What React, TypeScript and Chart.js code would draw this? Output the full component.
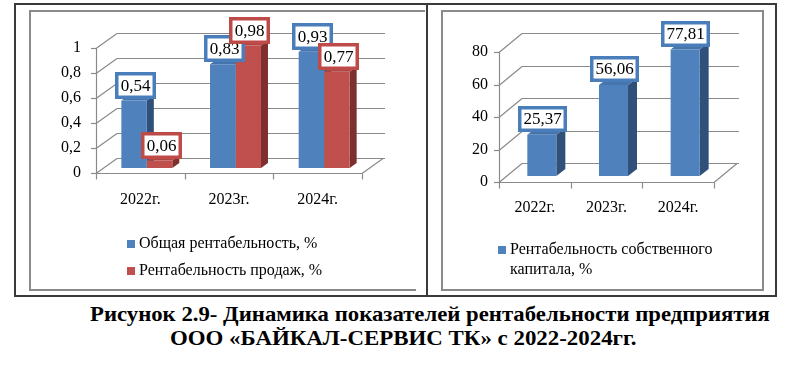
import React, { useEffect, useLayoutEffect, useRef, useState } from "react";
import { Chart, registerables } from "chart.js";
Chart.register(...registerables);

// ---------- data ----------
const categories = ["2022г.", "2023г.", "2024г."];
const generalLabel = "Общая рентабельность, %";
const generalValues = [0.54, 0.83, 0.93];
const salesLabel = "Рентабельность продаж, %";
const salesValues = [0.06, 0.98, 0.77];
const equityLabel = "Рентабельность собственного капитала, %";
const equityValues = [25.37, 56.06, 77.81];
const leftAxisMax = 1;
const leftAxisStep = 0.2;
const rightAxisMax = 80;
const rightAxisStep = 20;
const captionLine1 = "Рисунок 2.9- Динамика показателей рентабельности предприятия";
const captionLine2 = "ООО «БАЙКАЛ-СЕРВИС ТК» с 2022-2024гг.";

// ---------- styles ----------
const BLUE = { front: "#4F81BD", side: "#30507A", top: "#4674AC", border: "#4A7EBB" };
const RED = { front: "#C0504D", side: "#7E302E", top: "#AE4643", border: "#BE4B48" };
const FONT = "Liberation Serif";
const GRID = "#8A8A8A";

const fmt = (v: number) => String(Number(v.toFixed(2))).replace(".", ",");

const threeDPlugin = {
  id: "threeD",
  beforeDatasetsDraw(chart: any, _a: any, o: any) {
    const { ctx, chartArea: ca, scales } = chart;
    const x = scales.x, y = scales.y;
    const line = (x1: number, y1: number, x2: number, y2: number) => {
      ctx.beginPath(); ctx.moveTo(x1, y1); ctx.lineTo(x2, y2); ctx.stroke();
    };
    ctx.save();
    ctx.strokeStyle = GRID;
    ctx.lineWidth = 1.2;
    const base = Math.round(y.getPixelForValue(0)) + 0.5;
    y.ticks.forEach((t: any) => {
      const py = Math.round(y.getPixelForValue(t.value)) + 0.5;
      line(ca.left, py, ca.left + o.wallDx, py + o.wallDy);
      line(ca.left + o.wallDx, py + o.wallDy, ca.right + o.wallDx + 2, py + o.wallDy);
      line(ca.left - 5, py, ca.left, py);
    });
    line(ca.right, base, ca.right + o.wallDx, base + o.wallDy);
    line(ca.left, base, ca.right, base);
    line(ca.left + 0.5, ca.top, ca.left + 0.5, base);
    const n = chart.data.labels.length;
    const cw = (x.getPixelForValue(n - 1) - x.getPixelForValue(0)) / Math.max(1, n - 1) || (ca.right - ca.left);
    for (let i = 0; i <= n; i++) {
      const px = Math.round(x.getPixelForValue(0) - cw / 2 + i * cw) + 0.5;
      line(px, base, px, base + 6);
    }
    ctx.restore();

    ctx.save();
    ctx.translate(o.barDx, o.barDy);
    const metas = chart.data.datasets.map((_d: any, di: number) => chart.getDatasetMeta(di));
    for (let i = 0; i < n; i++) {
      metas.forEach((meta: any, di: number) => {
        const el = meta.data[i];
        if (!el) return;
        const p = el.getProps(["x", "y", "base", "width"], true);
        const l = p.x - p.width / 2, r = p.x + p.width / 2;
        const col = chart.data.datasets[di].faceColors;
        ctx.fillStyle = col.side;
        ctx.beginPath();
        ctx.moveTo(r, p.y); ctx.lineTo(r + o.sideDx, p.y + o.sideDy);
        ctx.lineTo(r + o.sideDx, p.base + o.sideDy); ctx.lineTo(r, p.base);
        ctx.closePath(); ctx.fill();
        ctx.fillStyle = col.top;
        ctx.beginPath();
        ctx.moveTo(l, p.y); ctx.lineTo(l + o.sideDx, p.y + o.sideDy);
        ctx.lineTo(r + o.sideDx, p.y + o.sideDy); ctx.lineTo(r, p.y);
        ctx.closePath(); ctx.fill();
      });
    }
    // stay translated for the bar fronts
  },
  afterDatasetsDraw(chart: any, _a: any, o: any) {
    const { ctx } = chart;
    ctx.restore();
    ctx.save();
    ctx.font = `${o.labelSize}px "${FONT}"`;
    ctx.textAlign = "center";
    ctx.textBaseline = "middle";
    chart.data.datasets.forEach((ds: any, di: number) => {
      const meta = chart.getDatasetMeta(di);
      meta.data.forEach((el: any, i: number) => {
        const p = el.getProps(["x", "y"], true);
        const txt = fmt(ds.data[i]);
        const tw = ctx.measureText(txt).width;
        const w = Math.round(tw + 11), h = o.boxH;
        const cx = p.x + o.barDx + o.labelDx;
        const bottom = p.y + o.barDy - o.labelGap;
        const x0 = Math.round(cx - w / 2), y0 = Math.round(bottom - h);
        ctx.fillStyle = "#FFFFFF";
        ctx.fillRect(x0, y0, w, h);
        ctx.strokeStyle = ds.faceColors.border;
        ctx.lineWidth = 3.5;
        ctx.strokeRect(x0 + 1.75, y0 + 1.75, w - 3.5, h - 3.5);
        ctx.fillStyle = "#000";
        ctx.fillText(txt, x0 + w / 2, y0 + h / 2 + 1);
      });
    });
    ctx.restore();
  },
};

function makeConfig(datasets: any[], max: number, step: number, dims: any) {
  return {
    type: "bar",
    data: { labels: categories, datasets },
    plugins: [threeDPlugin],
    options: {
      responsive: false,
      animation: false,
      events: [],
      layout: { padding: { top: dims.top, right: dims.right, left: 0, bottom: 0 } },
      datasets: { bar: { categoryPercentage: dims.catPct, barPercentage: 1, borderWidth: 0 } },
      scales: {
        x: {
          grid: { display: false, drawTicks: false },
          border: { display: false },
          ticks: { padding: dims.xPad, color: "#000", font: { family: `"${FONT}"`, size: 16 } },
          afterFit: (s: any) => { s.height = dims.xH; },
        },
        y: {
          min: 0,
          max,
          grid: { display: false, drawTicks: false },
          border: { display: false },
          ticks: {
            stepSize: step,
            padding: dims.yPad,
            color: "#000",
            font: { family: `"${FONT}"`, size: 16 },
            callback: (v: any) => fmt(Number(v)),
          },
          afterFit: (s: any) => { s.width = dims.yW; },
        },
      },
      plugins: {
        legend: { display: false },
        tooltip: { enabled: false },
        threeD: dims.three,
      },
    },
  };
}

function ChartBox({ config, left, top, width, height }: any) {
  const ref = useRef<HTMLCanvasElement>(null);
  useEffect(() => {
    const c = new Chart(ref.current as HTMLCanvasElement, config);
    return () => c.destroy();
  }, []);
  return (
    <canvas
      ref={ref}
      width={width}
      height={height}
      style={{ position: "absolute", left, top, width, height, display: "block" }}
    />
  );
}

function FitLine({ text, left, right, centerY, size }: any) {
  const ref = useRef<HTMLSpanElement>(null);
  const [k, setK] = useState(1);
  useLayoutEffect(() => {
    const el = ref.current;
    if (el && el.offsetWidth > 0) setK((right - left) / el.offsetWidth);
  }, []);
  return (
    <span
      ref={ref}
      style={{
        position: "absolute",
        left,
        top: centerY - size * 0.6,
        fontFamily: `"${FONT}"`,
        fontWeight: "bold",
        fontSize: size,
        lineHeight: `${size * 1.2}px`,
        whiteSpace: "nowrap",
        color: "#000",
        transformOrigin: "0 50%",
        transform: `scaleX(${k})`,
      }}
    >
      {text}
    </span>
  );
}

function LegendItem({ color, text, left, top, width }: any) {
  return (
    <div style={{ position: "absolute", left, top, width, fontFamily: `"${FONT}"`, fontSize: 16, lineHeight: "20px", color: "#000" }}>
      <span style={{ position: "absolute", left: 0, top: 7, width: 8, height: 8, background: color }} />
      <div style={{ marginLeft: 12 }}>{text}</div>
    </div>
  );
}

export default function App() {
  const leftConfig = makeConfig(
    [
      { label: generalLabel, data: generalValues, backgroundColor: BLUE.front, faceColors: BLUE },
      { label: salesLabel, data: salesValues, backgroundColor: RED.front, faceColors: RED },
    ],
    leftAxisMax,
    leftAxisStep,
    {
      top: 37, right: 54, yW: 66, xH: 117, xPad: 17, yPad: 15, catPct: 0.575,
      three: { wallDx: 21, wallDy: -15, barDx: 6.5, barDy: -5, sideDx: 7, sideDy: -5, labelSize: 17, boxH: 27, labelDx: 1.5, labelGap: 2 },
    }
  );
  const rightConfig = makeConfig(
    [{ label: equityLabel, data: equityValues, backgroundColor: BLUE.front, faceColors: BLUE }],
    rightAxisMax,
    rightAxisStep,
    {
      top: 41, right: 49, yW: 57, xH: 108, xPad: 16, yPad: 11, catPct: 0.405,
      three: { wallDx: 23, wallDy: -19, barDx: 7, barDy: -6, sideDx: 9, sideDy: -7, labelSize: 17, boxH: 26, labelDx: 0.5, labelGap: 3 },
    }
  );
  const line = (style: any) => <div style={{ position: "absolute", ...style }} />;
  return (
    <div style={{ position: "absolute", left: 0, top: 0, width: 800, height: 377, background: "#fff", overflow: "hidden" }}>
      {/* outer frame */}
      {line({ left: 14, top: 3, width: 763, height: 2, background: "#3a3a3a" })}
      {line({ left: 14, top: 3, width: 2, height: 294, background: "#3a3a3a" })}
      {line({ left: 775, top: 3, width: 2, height: 294, background: "#3a3a3a" })}
      {line({ left: 14, top: 295, width: 763, height: 2, background: "#3a3a3a" })}
      {line({ left: 426, top: 3, width: 2, height: 294, background: "#3a3a3a" })}
      {/* inner panel borders */}
      {line({ left: 29, top: 10, width: 396, height: 2, background: GRID })}
      {line({ left: 29, top: 10, width: 2, height: 281, background: GRID })}
      {line({ left: 29, top: 289, width: 387, height: 2, background: GRID })}
      {line({ left: 441, top: 10, width: 323, height: 2, background: GRID })}
      {line({ left: 441, top: 10, width: 2, height: 281, background: GRID })}
      {line({ left: 762, top: 10, width: 2, height: 281, background: GRID })}
      {line({ left: 441, top: 289, width: 323, height: 2, background: GRID })}

      <ChartBox config={leftConfig} left={30} top={11} width={386} height={279} />
      <ChartBox config={rightConfig} left={442} top={11} width={321} height={279} />

      <LegendItem color={BLUE.front} text={generalLabel} left={127} top={233} width={260} />
      <LegendItem color={RED.front} text={salesLabel} left={127} top={260} width={260} />
      <LegendItem color={BLUE.front} text={equityLabel} left={498} top={239} width={248} />

      <FitLine text={captionLine1} left={90} right={770} centerY={314} size={22} />
      <FitLine text={captionLine2} left={170} right={637} centerY={338} size={22} />
    </div>
  );
}
